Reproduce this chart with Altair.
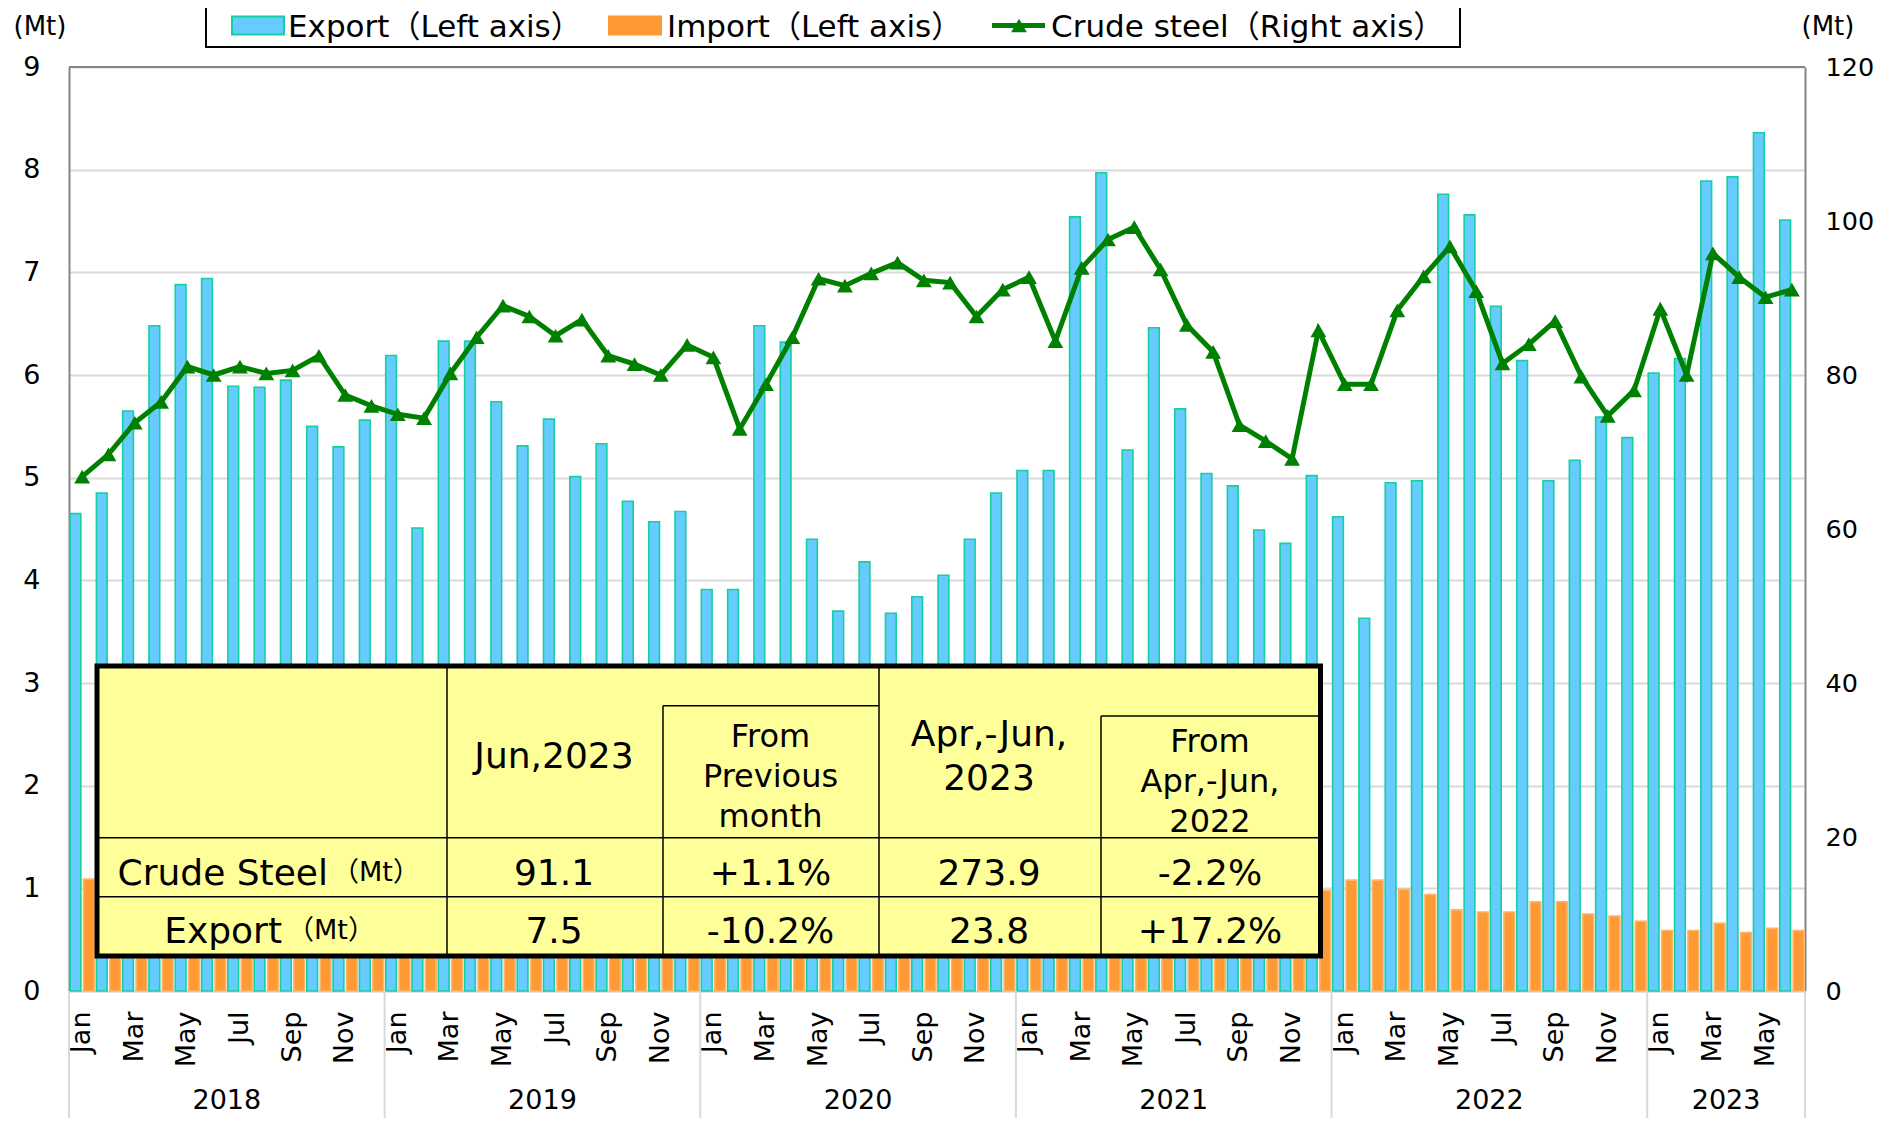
import altair as alt
import pandas as pd

# ---------------- data ----------------
month_names = ["Jan", "Feb", "Mar", "Apr", "May", "Jun", "Jul", "Aug", "Sep", "Oct", "Nov", "Dec"]
years = [2018, 2019, 2020, 2021, 2022, 2023]
months_per_year = [12, 12, 12, 12, 12, 6]

export_mt = [
    4.65, 4.85, 5.65, 6.48, 6.88, 6.94, 5.89, 5.88, 5.95, 5.50, 5.30, 5.56,
    6.19, 4.51, 6.33, 6.33, 5.74, 5.31, 5.57, 5.01, 5.33, 4.77, 4.57, 4.67,
    3.91, 3.91, 6.48, 6.32, 4.40, 3.70, 4.18, 3.68, 3.84, 4.05, 4.40, 4.85,
    5.07, 5.07, 7.54, 7.97, 5.27, 6.46, 5.67, 5.04, 4.92, 4.49, 4.36, 5.02,
    4.62, 3.63, 4.95, 4.97, 7.76, 7.56, 6.67, 6.14, 4.97, 5.17, 5.59, 5.39,
    6.02, 6.16, 7.89, 7.93, 8.36, 7.51,
]
import_mt = [
    1.09, 1.05, 1.20, 1.10, 1.15, 1.10, 1.05, 1.10, 1.10, 1.00, 1.10, 1.00,
    1.00, 0.90, 1.10, 1.00, 1.05, 1.00, 1.10, 1.15, 1.05, 1.10, 1.10, 1.20,
    1.25, 1.10, 1.00, 0.95, 1.20, 2.05, 2.55, 2.40, 2.00, 2.00, 1.50, 1.60,
    1.50, 1.20, 1.30, 1.30, 1.30, 1.20, 1.20, 1.20, 1.15, 1.10, 1.05, 0.98,
    1.08, 1.08, 0.99, 0.94, 0.79, 0.77, 0.77, 0.87, 0.87, 0.75, 0.73, 0.68,
    0.59, 0.59, 0.66, 0.57, 0.61, 0.59,
]
crude_mt = [
    66.8, 69.7, 73.8, 76.5, 81.1, 80.0, 81.1, 80.2, 80.6, 82.5, 77.4, 76.0,
    74.9, 74.4, 80.2, 84.9, 89.0, 87.6, 85.1, 87.2, 82.5, 81.4, 80.0, 83.9,
    82.3, 73.0, 78.8, 84.9, 92.5, 91.6, 93.2, 94.6, 92.3, 92.0, 87.6, 91.1,
    92.7, 84.4, 93.9, 97.6, 99.2, 93.7, 86.5, 83.0, 73.5, 71.4, 69.1, 85.8,
    78.8, 78.8, 88.4, 92.8, 96.7, 90.9, 81.5, 84.0, 87.0, 79.8, 74.7, 78.0,
    88.6, 80.0, 95.8, 92.7, 90.1, 91.1,
]
series_names = ["Export", "Import"]
legend_labels = ["Export（Left axis）", "Import（Left axis）", "Crude steel（Right axis）"]
left_ticks = [0, 1, 2, 3, 4, 5, 6, 7, 8, 9]
right_ticks = [0, 20, 40, 60, 80, 100, 120]
unit_label = "(Mt)"

table_header_1 = ["Jun,2023"]
table_header_2 = ["From", "Previous", "month"]
table_header_3 = ["Apr,-Jun,", "2023"]
table_header_4 = ["From", "Apr,-Jun,", "2022"]
table_row_labels = ["Crude Steel", "Export"]
table_row_unit = "（Mt）"
table_values = [["91.1", "+1.1%", "273.9", "-2.2%"],
                ["7.5", "-10.2%", "23.8", "+17.2%"]]

# ---------------- frames ----------------
keys = []
for y, n in zip(years, months_per_year):
    for m in range(n):
        keys.append(f"{month_names[m]} {y}")

bar_df = pd.DataFrame({
    "key": keys * 2,
    "series": ["Export"] * len(keys) + ["Import"] * len(keys),
    "value": export_mt + import_mt,
})
line_df = pd.DataFrame({"key": keys, "crude": crude_mt})

# ---------------- layout constants ----------------
W, H = 1736, 924
PAD = {"left": 61, "top": 59, "right": 70, "bottom": 127}
FONT = "DejaVu Sans, Noto Sans CJK JP, sans-serif"
GRID = "#d9d9d9"
BORDER = "#868686"

label_expr = ("indexof(['Jan','Mar','May','Jul','Sep','Nov'], slice(datum.value,0,3)) >= 0 "
              "? slice(datum.value,0,3) : ''")


def make_x(band_pos=None):
    kw = {}
    if band_pos is not None:
        kw["bandPosition"] = band_pos
    return alt.X(
        "key:N", sort=keys, title=None,
        scale=alt.Scale(paddingInner=0, paddingOuter=0),
        axis=alt.Axis(labelExpr=label_expr, labelAngle=270, labelFontSize=27,
                      labelPadding=20, ticks=False, tickSize=0, domain=True,
                      domainColor=GRID, domainWidth=2, grid=False,
                      labelOverlap=False, labelColor="#000", labelFont=FONT),
        **kw,
    )


bars = alt.Chart(bar_df).mark_bar(strokeWidth=1.6).encode(
    x=make_x(),
    xOffset=alt.XOffset("series:N", sort=series_names,
                        scale=alt.Scale(domain=series_names, paddingInner=0.2, paddingOuter=0.08)),
    y=alt.Y("value:Q", scale=alt.Scale(domain=[0, 9], nice=False),
            axis=alt.Axis(orient="left", values=left_ticks, title=None, grid=True,
                          gridColor=GRID, gridWidth=2, domainColor=BORDER, domainWidth=2,
                          ticks=False, tickSize=0, labelFontSize=27, labelPadding=29,
                          labelColor="#000", labelFont=FONT)),
    fill=alt.Fill("series:N", scale=alt.Scale(domain=series_names, range=["#66ccff", "#ff9933"]),
                  legend=None),
    stroke=alt.Stroke("series:N", scale=alt.Scale(domain=series_names, range=["#14cf9f", "#ffb469"]),
                      legend=None),
)

line = alt.Chart(line_df).mark_line(
    color="#008000", strokeWidth=5,
    point=alt.OverlayMarkDef(shape="triangle-up", filled=True, size=250, color="#008000"),
).encode(
    x=make_x(),
    y=alt.Y("crude:Q", scale=alt.Scale(domain=[0, 120], nice=False),
            axis=alt.Axis(orient="right", values=right_ticks, title=None, grid=False,
                          domainColor=BORDER, domainWidth=2, ticks=False, tickSize=0,
                          labelFontSize=25.5, labelPadding=20, labelColor="#000",
                          labelFont=FONT)),
)

one = pd.DataFrame({"a": [0]})
top_border = alt.Chart(one).mark_rule(color=BORDER, strokeWidth=2).encode(
    x=alt.value(0), x2=alt.value(W), y=alt.value(0))

# year separators below axis
year_first = []
year_mid = []
pos = 0
for y, n in zip(years, months_per_year):
    year_first.append(keys[pos])
    year_mid.append(keys[pos + n // 2 - 1])
    pos += n
sep_df = pd.DataFrame({"key": year_first})
seps = alt.Chart(sep_df).mark_rule(color=GRID, strokeWidth=2).encode(
    x=make_x(0), y=alt.value(H), y2=alt.value(H + PAD["bottom"]))
sep_end = alt.Chart(pd.DataFrame({"key": [keys[-1]]})).mark_rule(color=GRID, strokeWidth=2).encode(
    x=make_x(1), y=alt.value(H), y2=alt.value(H + PAD["bottom"]))
year_df = pd.DataFrame({"key": year_mid, "label": [str(y) for y in years]})
year_text = alt.Chart(year_df).mark_text(fontSize=27, baseline="alphabetic", align="center",
                                         color="#000", font=FONT).encode(
    x=make_x(1), y=alt.value(1042), text="label:N")

# ---------------- summary table ----------------
TX0, TX1, TY0, TY1 = 28, 1251.5, 599, 889
C1, C2, C3, C4 = 378, 594, 810, 1032
R1, R2 = 770.7, 829.7
S1, S2 = 638.7, 649

table_fill = alt.Chart(one).mark_rect(fill="#ffff99").encode(
    x=alt.value(TX0), x2=alt.value(TX1), y=alt.value(TY0), y2=alt.value(TY1))

rule_df = pd.DataFrame([
    dict(x1=C1, x2=C1, y1=TY0, y2=TY1),
    dict(x1=C2, x2=C2, y1=S1, y2=TY1),
    dict(x1=C3, x2=C3, y1=TY0, y2=TY1),
    dict(x1=C4, x2=C4, y1=S2, y2=TY1),
    dict(x1=TX0, x2=TX1, y1=R1, y2=R1),
    dict(x1=TX0, x2=TX1, y1=R2, y2=R2),
    dict(x1=C2, x2=C3, y1=S1, y2=S1),
    dict(x1=C4, x2=TX1, y1=S2, y2=S2),
])
table_rules = alt.Chart(rule_df).mark_rule(color="#000", strokeWidth=1.5).encode(
    x=alt.X("x1:Q", scale=None), x2="x2:Q", y=alt.Y("y1:Q", scale=None), y2="y2:Q")
table_border = alt.Chart(one).mark_rect(fill=None, stroke="#000", strokeWidth=5).encode(
    x=alt.value(TX0), x2=alt.value(TX1), y=alt.value(TY0), y2=alt.value(TY1))

col_cx = [485, 701.5, 920, 1141]
center_rows = []
center_rows.append(dict(t=table_header_1[0], x=col_cx[0], y=701, fs=36))
for i, t in enumerate(table_header_2):
    center_rows.append(dict(t=t, x=col_cx[1], y=680 + 40 * i, fs=32))
for i, t in enumerate(table_header_3):
    center_rows.append(dict(t=t, x=col_cx[2], y=679 + 44 * i, fs=36))
for i, t in enumerate(table_header_4):
    center_rows.append(dict(t=t, x=col_cx[3], y=685 + 40 * i, fs=32))
for r, vals in enumerate(table_values):
    for c, v in enumerate(vals):
        center_rows.append(dict(t=v, x=col_cx[c], y=[818, 876][r], fs=36))
center_rows.append(dict(t=table_row_unit, x=307, y=814, fs=27))
center_rows.append(dict(t=table_row_unit, x=262, y=872, fs=27))
center_df = pd.DataFrame(center_rows)
table_text = alt.Chart(center_df).mark_text(align="center", baseline="alphabetic",
                                            color="#000", font=FONT).encode(
    x=alt.X("x:Q", scale=None), y=alt.Y("y:Q", scale=None),
    text="t:N", size=alt.Size("fs:Q", scale=None))
lab_df = pd.DataFrame({"t": table_row_labels, "x": [259, 213], "y": [818, 876]})
table_labels = alt.Chart(lab_df).mark_text(align="right", baseline="alphabetic", fontSize=36,
                                           color="#000", font=FONT).encode(
    x=alt.X("x:Q", scale=None), y=alt.Y("y:Q", scale=None), text="t:N")

# ---------------- legend ----------------
LY = -30
LM = -41.5
legend_box = alt.Chart(one).mark_rect(fill="#ffffff", stroke="#000", strokeWidth=2).encode(
    x=alt.value(137), x2=alt.value(1391), y=alt.value(-90), y2=alt.value(-20))
sw_df = pd.DataFrame({"x1": [163, 540], "x2": [215, 592], "y1": [LM - 9, LM - 9], "y2": [LM + 9, LM + 9],
                      "f": ["#66ccff", "#ff9933"], "s": ["#14cf9f", "#ff9933"]})
legend_sw = alt.Chart(sw_df).mark_rect(strokeWidth=2).encode(
    x=alt.X("x1:Q", scale=None), x2="x2:Q", y=alt.Y("y1:Q", scale=None), y2="y2:Q",
    fill=alt.Fill("f:N", scale=None), stroke=alt.Stroke("s:N", scale=None))
legend_line = alt.Chart(one).mark_rule(color="#008000", strokeWidth=5).encode(
    x=alt.value(923), x2=alt.value(976), y=alt.value(LM))
legend_tri = alt.Chart(one).mark_point(shape="triangle-up", filled=True, size=250,
                                       color="#008000", opacity=1).encode(
    x=alt.value(950), y=alt.value(LM))
lt_df = pd.DataFrame({"t": legend_labels, "x": [219, 598, 982]})
legend_text = alt.Chart(lt_df).mark_text(align="left", baseline="alphabetic", fontSize=31,
                                         color="#000", font=FONT).encode(
    x=alt.X("x:Q", scale=None), y=alt.value(LY), text="t:N")

unit_df = pd.DataFrame({"t": [unit_label, unit_label], "x": [-29, 1759], "y": [-32, -32]})
unit_text = alt.Chart(unit_df).mark_text(align="center", baseline="alphabetic", fontSize=26,
                                         color="#000", font=FONT).encode(
    x=alt.X("x:Q", scale=None), y=alt.Y("y:Q", scale=None), text="t:N")

chart = alt.layer(
    bars, line, top_border, seps, sep_end, year_text,
    table_fill, table_rules, table_border, table_text, table_labels,
    legend_box, legend_sw, legend_line, legend_tri, legend_text, unit_text,
).resolve_scale(y="independent").properties(
    width=W, height=H, padding=PAD,
    autosize=alt.AutoSizeParams(type="none"),
    background="#ffffff",
).configure_view(stroke=None).configure_axis(labelFont=FONT).configure_text(font=FONT)

chart.save("out.html", embed_options={"renderer": "svg", "actions": False})
